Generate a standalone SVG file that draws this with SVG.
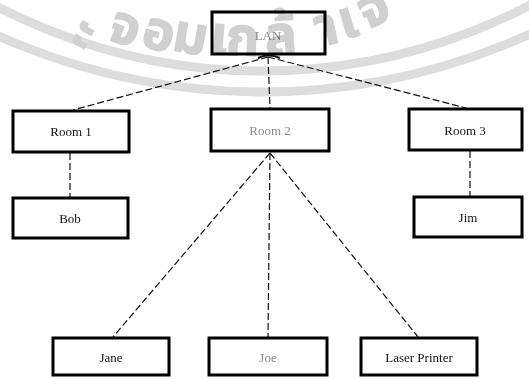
<svg xmlns="http://www.w3.org/2000/svg" width="529" height="379" viewBox="0 0 529 379">
  <style>
    .box { fill: #ffffff; stroke: #000000; stroke-width: 3; }
    .lbl { font-family: "Liberation Serif", "Times New Roman", serif; font-size: 13px; fill: #111111; text-anchor: middle; dominant-baseline: central; }
    .faint { fill: #8a8a8a; }
    .link { fill: none; stroke: #111111; stroke-width: 1.2; stroke-dasharray: 7 3; }
    /* seal laid over the whole sheet, multiplied so black lines stay black */
    #seal { mix-blend-mode: multiply; }
    .band { fill: none; stroke: #dddddd; stroke-width: 9; }
    .seal { font-family: "Noto Sans Thai", "Noto Sans", "DejaVu Sans", sans-serif; font-size: 54px; font-weight: 700; fill: #d0d0d0; stroke: #d0d0d0; stroke-width: 1.2; text-anchor: middle; }
  </style>

  <rect width="529" height="379" fill="#ffffff"/>

  <!-- connectors -->
  <g id="connectors">
    <line class="link" x1="268" y1="57" x2="73" y2="110"/>
    <line class="link" x1="268" y1="57" x2="466" y2="108"/>
    <line class="link" x1="268" y1="57" x2="270" y2="108" stroke-dasharray="3 8"/>
    <path d="M 258 58 Q 268 53 280 58" fill="none" stroke="#111" stroke-width="2"/>
    <line class="link" x1="70" y1="153" x2="70" y2="197" stroke-dasharray="3 8"/>
    <line class="link" x1="470" y1="151" x2="470" y2="196"/>
    <line class="link" x1="270" y1="153" x2="113" y2="337"/>
    <line class="link" x1="270" y1="153" x2="268" y2="337"/>
    <line class="link" x1="270" y1="153" x2="418" y2="337"/>
  </g>

  <g id="lan">
    <rect class="box" x="212" y="12" width="113" height="42"/>
    <text class="lbl faint" x="268" y="35">LAN</text>
  </g>
  <g id="room1">
    <rect class="box" x="13" y="111" width="116" height="41"/>
    <text class="lbl" x="71" y="131">Room 1</text>
  </g>
  <g id="room2">
    <rect class="box" x="211" y="109" width="118" height="42"/>
    <text class="lbl faint" x="270" y="130">Room 2</text>
  </g>
  <g id="room3">
    <rect class="box" x="409" y="109" width="113" height="41"/>
    <text class="lbl" x="465" y="130">Room 3</text>
  </g>
  <g id="bob">
    <rect class="box" x="13" y="198" width="115" height="40"/>
    <text class="lbl" x="70" y="218">Bob</text>
  </g>
  <g id="jim">
    <rect class="box" x="414" y="197" width="108" height="40"/>
    <text class="lbl" x="468" y="217">Jim</text>
  </g>
  <g id="jane">
    <rect class="box" x="53" y="338" width="116" height="37"/>
    <text class="lbl" x="111" y="357">Jane</text>
  </g>
  <g id="joe">
    <rect class="box" x="209" y="338" width="118" height="37"/>
    <text class="lbl faint" x="268" y="357">Joe</text>
  </g>
  <g id="printer">
    <rect class="box" x="361" y="338" width="116" height="37"/>
    <text class="lbl" x="419" y="357">Laser Printer</text>
  </g>

  <!-- seal: two rings and lettering -->
  <g id="seal">
    <circle class="band" cx="262" cy="-506" r="577"/>
    <circle class="band" cx="262" cy="-557" r="649"/>
    <text class="seal"><tspan x="78" y="43" rotate="28">ะ</tspan><tspan x="120" y="38" rotate="22">จ</tspan><tspan x="155" y="45" rotate="16">อ</tspan><tspan x="188" y="50" rotate="10">ม</tspan><tspan x="218" y="53" rotate="5">เ</tspan><tspan x="242" y="55" rotate="2">ก</tspan><tspan x="282" y="55" rotate="-4">ล้</tspan><tspan x="330" y="47" rotate="-12">า</tspan><tspan x="353" y="40" rotate="-17">เ</tspan><tspan x="381" y="30" rotate="-22">จ</tspan></text>
  </g>
</svg>
